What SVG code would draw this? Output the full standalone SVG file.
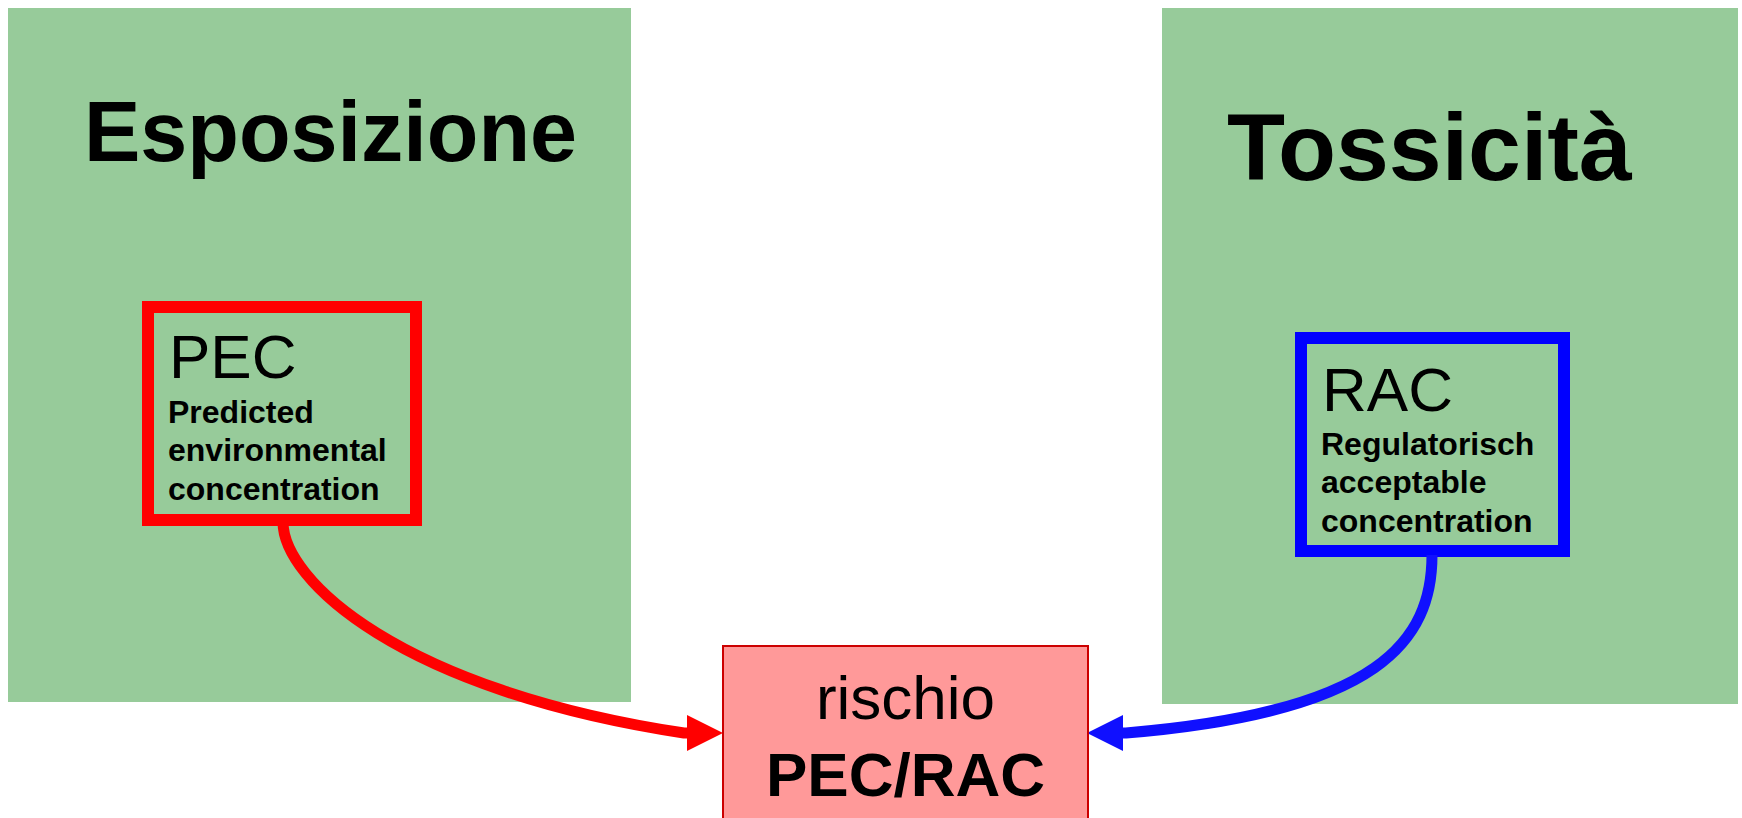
<svg xmlns="http://www.w3.org/2000/svg" width="1742" height="818" viewBox="0 0 1742 818">
<style>
.panel{fill:#97CB9A}
.title{font-family:"Liberation Sans",Arial,sans-serif;font-weight:bold;fill:#000}
.abbr{font-family:"Liberation Sans",Arial,sans-serif;font-size:62px;fill:#000}
.desc{font-family:"Liberation Sans",Arial,sans-serif;font-weight:bold;font-size:32px;fill:#000}
.conn{fill:none;stroke-width:11}
</style>
<defs>
<marker id="headRed" markerUnits="userSpaceOnUse" markerWidth="37" markerHeight="36" refX="0" refY="18" orient="auto"><path d="M0,0 L36,18 L0,36 z" fill="#FF0000"/></marker>
<marker id="headBlue" markerUnits="userSpaceOnUse" markerWidth="37" markerHeight="36" refX="0" refY="18" orient="auto"><path d="M0,0 L36,18 L0,36 z" fill="#1010FF"/></marker>
</defs>
<rect width="1742" height="818" fill="#FFFFFF"/>
<g id="esposizione">
<rect class="panel" x="8" y="8" width="623" height="694"/>
<text class="title" x="84" y="161" font-size="84.5">Esposizione</text>
</g>
<g id="tossicita">
<rect class="panel" x="1162" y="8" width="576" height="696"/>
<text class="title" x="1227" y="180" font-size="95">Tossicità</text>
</g>
<g id="pec">
<rect x="148" y="307" width="268" height="213" fill="none" stroke="#FF0000" stroke-width="12"/>
<text class="abbr" x="169" y="378">PEC</text>
<text class="desc" x="168" y="423">Predicted</text>
<text class="desc" x="168" y="461">environmental</text>
<text class="desc" x="168" y="500">concentration</text>
</g>
<g id="rac">
<rect x="1301" y="338" width="263" height="213" fill="none" stroke="#0000FF" stroke-width="12"/>
<text class="abbr" x="1322" y="411">RAC</text>
<text class="desc" x="1321" y="455">Regulatorisch</text>
<text class="desc" x="1321" y="493">acceptable</text>
<text class="desc" x="1321" y="532">concentration</text>
</g>
<g id="connectors">
<path class="conn" stroke="#FF0000" d="M283,522 C283,580 400,690 684,733 L687,733" marker-end="url(#headRed)"/>
<path class="conn" stroke="#1010FF" d="M1432,555 C1432,640 1380,712 1126,733 L1123,733" marker-end="url(#headBlue)"/>
</g>
<g id="rischio">
<rect x="723" y="646" width="365" height="180" fill="#FF9999" stroke="#CC0000" stroke-width="2"/>
<text class="abbr" x="905.5" y="719" text-anchor="middle">rischio</text>
<text class="abbr" x="905.5" y="796" text-anchor="middle" font-weight="bold">PEC/RAC</text>
</g>
</svg>
